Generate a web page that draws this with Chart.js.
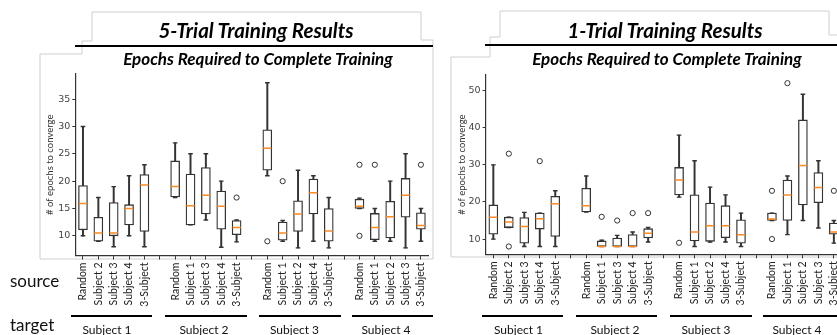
<!DOCTYPE html>
<html>
<head>
<meta charset="utf-8">
<script src="https://cdn.jsdelivr.net/npm/chart.js@4.4.1/dist/chart.umd.min.js"></script>
<style>
  html, body { margin:0; padding:0; width:837px; height:335px; overflow:hidden; background:#fff; }
  .abs { position:absolute; }
  .t { position:absolute; white-space:nowrap; transform:translate(-50%,-50%); font-family:Lato, "Open Sans", sans-serif; color:#000; }
  .title { font-weight:bold; font-style:italic; font-size:20.5px; }
  .sub { font-weight:bold; font-style:italic; font-size:17px; }
  .grp { font-size:12px; color:#111; }
  .side { font-size:17px; color:#111; transform:translate(0,-50%); }
  .hl { position:absolute; height:2px; background:#000; }
</style>
</head>
<body>
<svg class="abs" style="left:0;top:0" width="837" height="335">
  <g fill="none" stroke="#cfcfcf" stroke-width="1">
    <polyline points="82,46 82,41 92,41 92,12 421,12 421,40 433,40 433,259 40,259 40,54 82,54 82,46"/>
    <polyline points="490,44 490,37 500,37 500,11 829,11 829,35 837,35"/>
    <polyline points="490,44 490,57 451,57 451,257 837,257"/>
  </g>
</svg>
<canvas id="c1" class="abs" width="440" height="335" style="left:0;top:0;width:440px;height:335px"></canvas>
<canvas id="c2" class="abs" width="430" height="335" style="left:420px;top:0;width:430px;height:335px"></canvas>

<div class="t title" style="left:256px;top:30px">5-Trial Training Results</div>
<div class="hl" style="left:75px;top:45px;width:358px"></div>
<div class="t sub" style="left:258px;top:58px">Epochs Required to Complete Training</div>

<div class="t title" style="left:665px;top:30px">1-Trial Training Results</div>
<div class="hl" style="left:485px;top:43.5px;width:352px"></div>
<div class="t sub" style="left:667px;top:58px">Epochs Required to Complete Training</div>

<div class="t side" style="left:10px;top:280px">source</div>
<div class="t side" style="left:10px;top:324px">target</div>

<div class="hl" style="left:71px;top:315px;width:81px"></div>
<div class="hl" style="left:165px;top:315px;width:82px"></div>
<div class="hl" style="left:259px;top:315px;width:82px"></div>
<div class="hl" style="left:352px;top:315px;width:81px"></div>
<div class="hl" style="left:482px;top:315px;width:81px"></div>
<div class="hl" style="left:576px;top:315px;width:81px"></div>
<div class="hl" style="left:670px;top:315px;width:82px"></div>
<div class="hl" style="left:763px;top:315px;width:80px"></div>

<div id="grpLabels"></div>

<script>
// ---------- data ----------
const targets = ["Subject 1", "Subject 2", "Subject 3", "Subject 4"];
const sources = [
  ["Random", "Subject 2", "Subject 3", "Subject 4", "3-Subject"],
  ["Random", "Subject 1", "Subject 3", "Subject 4", "3-Subject"],
  ["Random", "Subject 1", "Subject 2", "Subject 4", "3-Subject"],
  ["Random", "Subject 1", "Subject 2", "Subject 3", "3-Subject"]
];

// 5-trial training (left panel)
const low5    = [10, 9, 8, 10, 8,     17, 12, 12.9, 7.9, 8.9,   21, 9, 7.8, 9, 7.8,      15, 9, 9, 7.8, 9];
const q1_5    = [11.1, 9, 10, 12, 10.8,  17.1, 12, 14, 11.2, 10.2,  22, 9.2, 10.8, 14, 9,  15, 9.3, 9.6, 13.4, 11.2];
const med5    = [15.9, 10.5, 10.5, 15, 19.3,  19, 15.5, 17.4, 15.4, 11.5,  26, 10.5, 14, 17.9, 10.9,  15.4, 11.5, 13.5, 17.4, 11.9];
const q3_5    = [19.2, 13.4, 16.1, 15.7, 21.2,  23.7, 21.3, 22.5, 18.2, 12.8,  29.4, 12.5, 16.4, 20.4, 15,  16.7, 14.1, 16.3, 20.5, 14.2];
const high5   = [30, 17, 19, 21, 23,   27, 25, 25, 20, 12.9,   38, 12.8, 22, 21, 17,   16.9, 15, 20, 25, 15];
const outIdx5 = [9, 10, 11, 15, 15, 16, 19];
const outVal5 = [17, 9, 20, 23, 10, 23, 23];
const yTicks5 = [10, 15, 20, 25, 30, 35];

// 1-trial training (right panel)
const low1    = [10, 13.1, 8, 8, 8,    17.3, 8, 8, 8, 9.2,    21.3, 8, 9.2, 9.2, 8,    15, 11.2, 15, 13, 8.9];
const q1_1    = [11.3, 13.1, 8.9, 12.7, 10.7,  17.3, 8, 8, 8, 10.3,  21.9, 9.5, 9.4, 10.4, 8.9,  15, 15, 19.2, 19.8, 11.3];
const med1    = [15.9, 14.6, 13.4, 15.5, 19.5,  19, 8, 8, 8, 11.6,  25.9, 11.9, 13.6, 13.6, 11.2,  15.4, 21.9, 29.8, 23.9, 11.9];
const q3_1    = [19.2, 15.9, 15.8, 17, 21.5,  23.7, 9.5, 10.3, 11.2, 12.8,  29.3, 21.9, 19.7, 19, 15.2,  17, 25.9, 42.1, 27.9, 14.3];
const high1   = [30, 15.9, 17.2, 17, 23,   27, 9.7, 11, 11.9, 13.1,   38, 31.1, 24, 21.9, 17,   17, 27, 49, 31.1, 15];
const outIdx1 = [1, 1, 3, 6, 7, 8, 9, 10, 15, 15, 16, 19];
const outVal1 = [33, 8, 31, 16, 15, 17, 17, 9, 23, 10, 52, 23];
const yTicks1 = [10, 20, 30, 40, 50];

// ---------- build ----------
const FONT = 'Lato, "Open Sans", sans-serif';
const slotLabels = [];
targets.forEach((t, g) => {
  sources[g].forEach(s => slotLabels.push(s));
  if (g < targets.length - 1) slotLabels.push('');
});
const slotOf = i => i + Math.floor(i / 5);
function toSlots(arr) {
  const out = new Array(slotLabels.length).fill(null);
  arr.forEach((v, i) => { out[slotOf(i)] = v; });
  return out;
}
function pairSlots(a, b) {
  const out = new Array(slotLabels.length).fill(null);
  a.forEach((v, i) => { out[slotOf(i)] = [v, b[i]]; });
  return out;
}
// outliers split into layers so each layer has at most one value per slot
function outlierLayers(idx, val) {
  const layers = [];
  const count = {};
  idx.forEach((s, k) => {
    const n = count[s] || 0;
    count[s] = n + 1;
    if (!layers[n]) layers[n] = new Array(slotLabels.length).fill(null);
    layers[n][slotOf(s)] = val[k];
  });
  return layers;
}

function makeChart(id, d, geo) {
  const dark = '#333';
  const datasets = [
    { type: 'bar', data: pairSlots(d.low, d.high), grouped: false, barThickness: 1.3,
      backgroundColor: dark, borderWidth: 0, order: 4 },
    { type: 'bar', data: pairSlots(d.q1, d.q3), grouped: false, barThickness: 9,
      backgroundColor: '#fff', borderColor: dark, borderWidth: 1.3, borderSkipped: false, order: 3 },
    { type: 'line', data: toSlots(d.high), showLine: false, pointStyle: 'line', pointRadius: 2.3,
      pointBorderWidth: 1.4, pointBorderColor: dark, order: 2 },
    { type: 'line', data: toSlots(d.low), showLine: false, pointStyle: 'line', pointRadius: 2.3,
      pointBorderWidth: 1.4, pointBorderColor: dark, order: 2 },
    { type: 'line', data: toSlots(d.med), showLine: false, pointStyle: 'line', pointRadius: 4.1,
      pointBorderWidth: 1.5, pointBorderColor: '#ff8a1f', order: 1 }
  ];
  outlierLayers(d.outIdx, d.outVal).forEach(layer => {
    datasets.push({ type: 'line', data: layer, showLine: false,
      pointStyle: 'circle', pointRadius: 2.6, pointBorderWidth: 1, pointBorderColor: dark,
      pointBackgroundColor: 'rgba(0,0,0,0)', order: 0 });
  });
  return new Chart(document.getElementById(id), {
    type: 'bar',
    data: { labels: slotLabels, datasets },
    options: {
      responsive: false, animation: false, devicePixelRatio: 1, events: [],
      layout: { padding: { left: geo.padL, top: geo.top, right: geo.padR, bottom: 0 } },
      plugins: { legend: { display: false }, tooltip: { enabled: false } },
      scales: {
        x: {
          type: 'category', offset: true,
          grid: { display: true, drawOnChartArea: false, drawTicks: true, tickLength: 4, tickColor: dark, offset: false, tickWidth: 1 },
          border: { display: true, color: dark, width: 1.2 },
          ticks: { autoSkip: false, maxRotation: 90, minRotation: 90, padding: 3,
                   font: { family: FONT, size: 10.5 }, color: '#222' },
          afterFit: s => { s.height = geo.xH; }
        },
        y: {
          type: 'linear', min: d.ymin, max: d.ymax,
          afterBuildTicks: s => { s.ticks = d.yTicks.map(v => ({ value: v })); },
          grid: { display: true, drawOnChartArea: false, drawTicks: true, tickLength: 3, tickColor: dark },
          border: { display: true, color: dark, width: 1.2 },
          ticks: { padding: 2, font: { family: '"DejaVu Sans", sans-serif', size: 9.5 }, color: '#444' },
          title: { display: true, text: '# of epochs to converge', padding: 0,
                   font: { family: FONT, size: 9.5 }, color: '#333' },
          afterFit: s => { s.width = geo.yW; }
        }
      }
    }
  });
}

makeChart('c1', { low: low5, q1: q1_5, med: med5, q3: q3_5, high: high5, outIdx: outIdx5, outVal: outVal5,
                  yTicks: yTicks5, ymin: 6.4, ymax: 39.6 },
          { padL: 44.3, yW: 31, top: 74, padR: 11.4, xH: 79.5 });
makeChart('c2', { low: low1, q1: q1_1, med: med1, q3: q3_1, high: high1, outIdx: outIdx1, outVal: outVal1,
                  yTicks: yTicks1, ymin: 5.9, ymax: 54.2 },
          { padL: 36, yW: 29.6, top: 75, padR: 8.4, xH: 80.7 });

// group (target) labels under the black lines
const grpX = [107, 204, 294.5, 386, 518.5, 615, 706, 797];
const holder = document.getElementById('grpLabels');
grpX.forEach((x, i) => {
  const el = document.createElement('div');
  el.className = 't grp';
  el.style.left = x + 'px';
  el.style.top = '329px';
  el.textContent = targets[i % 4];
  holder.appendChild(el);
});
</script>
</body>
</html>
